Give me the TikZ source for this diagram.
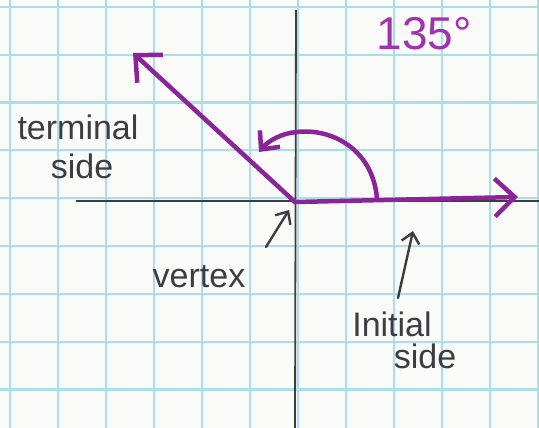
\documentclass[tikz,border=0pt]{standalone}
\usepackage{fontspec}
\setmainfont{Liberation Sans}
\usetikzlibrary{arrows.meta}
\definecolor{paper}{RGB}{250,251,249}
\definecolor{gridc}{RGB}{168,224,230}
\definecolor{pen}{RGB}{62,60,64}
\definecolor{marker}{RGB}{138,36,152}
\definecolor{marklight}{RGB}{160,50,175}
\tikzset{
  gridline/.style={draw=gridc,line width=2.2pt},
  axisline/.style={draw=pen,line width=1.8pt},
  purpleline/.style={draw=marker,line width=4.5pt,line cap=round,line join=round},
  bigbarb/.style={-{Straight Barb[length=20pt,width=38pt,line width=4.5pt]}},
  arcbarb/.style={-{Straight Barb[length=14pt,width=26pt,line width=4.5pt]}},
  penarrow/.style={draw=pen,line width=2.4pt,line cap=round,-{Straight Barb[length=10pt,width=18pt,line width=2.4pt]}},
  lbl/.style={text=pen,font=\fontsize{34}{36}\selectfont,inner sep=0pt},
  deg/.style={text=marklight,font=\fontsize{46}{50}\selectfont,inner sep=0pt}
}
\begin{document}
\begin{tikzpicture}[x=1pt,y=-1pt]
\useasboundingbox (0,0) rectangle (539,428);
\fill[paper] (0,0) rectangle (539,428);
% grid
\foreach \k in {0,...,11} \draw[gridline] ({10+48*\k},0) -- ({10+48*\k},428);
\foreach \k in {0,...,8} \draw[gridline] (0,{7+47.8*\k}) -- (539,{7+47.8*\k});
% axes
\coordinate (O) at (295,202);
\coordinate (xl) at (76,201);
\coordinate (xr) at (539,201);
\coordinate (yt) at (296,10);
\coordinate (yb) at (295,428);
\draw[axisline] (xl) -- (xr);
\draw[axisline] (yt) -- (yb);
% sides
\coordinate (init) at (518,197);
\coordinate (term) at (133,53);
\draw[purpleline,bigbarb] (O) -- (init);
\draw[purpleline,bigbarb] (O) -- (term);
% angle arc
\coordinate (a0) at (377,199);
\coordinate (atop) at (297,132);
\coordinate (aend) at (259,152);
\draw[purpleline,arcbarb] (a0) .. controls (373,148) and (330,128) .. (atop)
   .. controls (282,133) and (268,141) .. (aend);
% labels
\node[deg] (ang) at (424,34) {135°};
\node[lbl] (tl1) at (78,127) {terminal};
\node[lbl] (tl2) at (82,166) {side};
\node[lbl] (vx) at (199,277) {vertex};
\node[lbl] (il1) at (392,324) {Initial};
\node[lbl] (il2) at (425,356) {side};
% pointer arrows
\coordinate (vt) at (266,247);
\coordinate (vh) at (289,210);
\draw[penarrow] (vt) -- (vh);
\coordinate (it) at (398,298);
\coordinate (ih) at (413,231);
\draw[penarrow] (it) -- (ih);
\end{tikzpicture}
\end{document}
